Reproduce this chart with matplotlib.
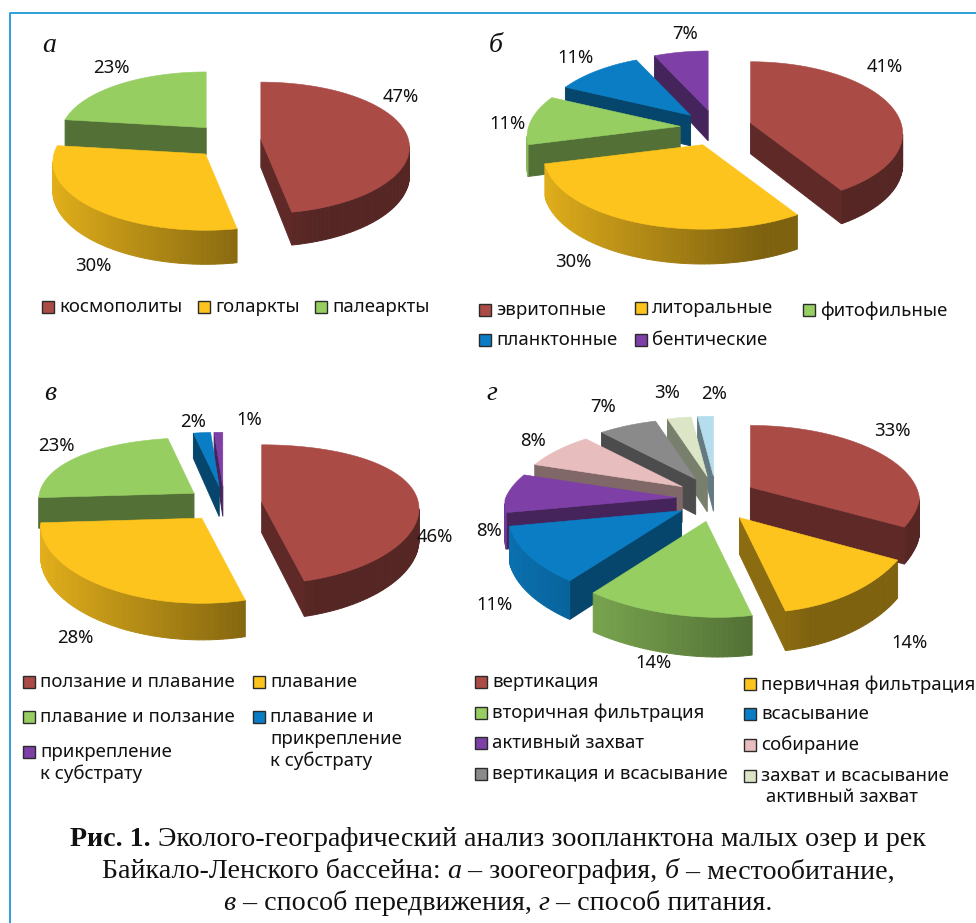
# -*- coding: utf-8 -*-
"""Четыре объемные круговые диаграммы (зоопланктон, Байкало-Ленский бассейн)."""
import numpy as np
import matplotlib
matplotlib.use('Agg')
import matplotlib.pyplot as plt
from matplotlib.patches import Polygon, Rectangle

# =============================================================================
# Данные
# =============================================================================
values_a = [47, 30, 23]
values_b = [41, 30, 11, 11, 7]
values_v = [46, 28, 23, 2, 1]
values_g = [33, 14, 14, 11, 8, 8, 7, 3, 2]

legend_a = ['космополиты', 'голаркты', 'палеаркты']
legend_b = ['эвритопные', 'литоральные', 'фитофильные', 'планктонные', 'бентические']
legend_v = ['ползание и плавание', 'плавание', 'плавание и ползание',
            'плавание и\nприкрепление\nк субстрату', 'прикрепление\nк субстрату']
legend_g = ['вертикация', 'первичная фильтрация', 'вторичная фильтрация', 'всасывание',
            'активный захват', 'собирание', 'вертикация и всасывание',
            'захват и всасывание\n активный захват']

# подпись: (текст, начертание)
caption_rows = [
    [('Рис. 1. ', 'bold'), ('Эколого-географический анализ зоопланктона малых озер и рек', 'normal')],
    [('Байкало-Ленского бассейна: ', 'normal'), ('а', 'italic'), (' – зоогеография, ', 'normal'),
     ('б', 'italic'), (' – местообитание,', 'normal')],
    [('в', 'italic'), (' – способ передвижения, ', 'normal'), ('г', 'italic'),
     (' – способ питания.', 'normal')],
]

# =============================================================================
# Стиль и разметка (в пикселях картинки)
# =============================================================================
SLICE_COLORS = ['#AA4B46', '#FDC41E', '#97CE62', '#0A7DC4', '#7E3FA6',
                '#E8BDBD', '#8A8A8A', '#DCE6C6', '#B5DDEE']
FRAME = '#2F9FDB'
SANS = ['Noto Sans', 'DejaVu Sans']
SERIF = ['Liberation Serif', 'DejaVu Serif']

# центр, радиусы, вынос секторов, перспектива (p/pf - дальняя/ближняя половина),
# глубина d, сдвиг низа b
GEOM_A = dict(cx=228, cy=141, rx=148, ry=66, e=33, k=0.54, p=0.12, pf=0.12, q=0.13, d=28, s=0.18, b=0)
GEOM_B = dict(cx=716, cy=128, rx=152, ry=72, e=36, k=0.50, p=0.15, pf=0.15, q=0.14, d=31, s=0.10, b=0)
GEOM_V = dict(cx=224, cy=504, rx=157, ry=70, e=38, k=0.46, p=0.10, pf=0.10, q=0.18, d=31, s=0.15, b=0)
GEOM_G = dict(cx=716, cy=499, rx=171, ry=78, e=40, k=0.575, p=0.20, pf=0.07, q=0.18, d=36, s=0.08, b=12)

pos_a = [(401, 97), (93, 266), (111, 68)]
pos_b = [(885, 67), (573, 262), (507, 124), (575, 58), (685, 34)]
pos_v = [(435, 537), (75, 638), (56, 446), (193, 422), (249, 420)]
pos_g = [(892, 431), (909, 643), (653, 663), (494, 605), (489, 531),
         (533, 441), (603, 407), (667, 393), (714, 394)]

# x маркера, y строки
legpos_a = [(42, 307), (198, 307), (315, 307)]
legpos_b = [(479, 310), (635, 308), (803, 310), (479, 340), (635, 340)]
legpos_v = [(23, 682), (253, 682), (23, 717), (253, 717), (23, 752)]
legpos_g = [(475, 682), (744, 684), (475, 713), (744, 714),
            (475, 743), (744, 745), (475, 774), (744, 776)]

LETTERS = [('а', 49, 46), ('б', 496, 45), ('в', 50, 394), ('г', 492, 394)]

PCT_SIZE = 13.3
LEG_SIZE = 13.4
CAP_SIZE = 20.2
CAP_Y = [840, 872, 903]
CAP_X = 498

# =============================================================================
# Функции
# =============================================================================
def shade(color, f):
    rgb = np.array(matplotlib.colors.to_rgb(color))
    return tuple(np.clip(rgb * f, 0, 1))


def pie3d(ax, values, g):
    """Рисует секторы от дальних к ближним; углы идут по часовой от 12 часов."""
    frac = np.array(values, dtype=float) / np.sum(values)
    edges = np.concatenate([[0], np.cumsum(frac)]) * 2 * np.pi
    mids = (edges[:-1] + edges[1:]) / 2
    ax0 = g['cx'] + g['e'] * np.sin(mids)
    ay0 = g['cy'] - g['e'] * g['k'] * np.cos(mids)

    for i in np.argsort(ay0):
        n = max(4, int((edges[i + 1] - edges[i]) / np.radians(1.5)))
        th = np.linspace(edges[i], edges[i + 1], n)
        u = np.concatenate([[0], np.sin(th)])
        v = np.concatenate([[0], -np.cos(th)])
        vg = (ay0[i] - g['cy']) / g['ry'] + v
        px = np.where(vg < 0, g['p'], g['pf'])
        x = ax0[i] + g['rx'] * u * (1 + px * vg) + g['b'] * np.clip(v, 0, 1) ** 4
        y = ay0[i] + g['ry'] * v * (1 + g['q'] * vg)
        dep = g['d'] * (1 + g['s'] * vg)
        col = SLICE_COLORS[i]

        # стенки: видны только те ребра, что идут справа налево
        m = len(x)
        for j in range(m):
            k = (j + 1) % m
            if x[k] >= x[j]:
                continue
            if j == 0 or j == m - 1:
                f = 0.55
            else:
                f = max(0.5, 0.6 - 0.3 * np.sin((th[j - 1] + th[k - 1]) / 2))
            quad = [(x[j], y[j]), (x[k], y[k]), (x[k], y[k] + dep[k]), (x[j], y[j] + dep[j])]
            c = shade(col, f)
            ax.add_patch(Polygon(quad, closed=True, fc=c, ec=c, lw=0.7, zorder=2))
        ax.add_patch(Polygon(np.column_stack([x, y]), closed=True, fc=col, ec=col,
                             lw=0.4, zorder=2))


def pct_labels(ax, values, pos):
    for val, (x, y) in zip(values, pos):
        ax.text(x, y, f'{val}%', ha='center', va='center', fontsize=PCT_SIZE,
                family=SANS, color='#111111', zorder=3)


def legend(ax, names, pos):
    for i, (name, (x, y)) in enumerate(zip(names, pos)):
        ax.add_patch(Rectangle((x, y - 6), 12, 12, fc=SLICE_COLORS[i], ec='#2b2b2b',
                               lw=1.0, zorder=3))
        ax.text(x + 17, y - 9, name, ha='left', va='top', fontsize=LEG_SIZE, family=SANS,
                color='#111111', linespacing=1.25, zorder=3)


def serif_text(ax, x, y, s, style):
    weight = 'bold' if style == 'bold' else 'normal'
    slant = 'italic' if style == 'italic' else 'normal'
    return ax.text(x, y, s, ha='left', va='center', fontsize=CAP_SIZE, family=SERIF,
                   weight=weight, style=slant, color='#111111')


def advance(ax, renderer, s, style):
    # ширина с учетом пробелов по краям: меряем между двумя точками
    t = serif_text(ax, 0, 0, '.' + s + '.', style)
    w = t.get_window_extent(renderer).width
    t.set_text('..')
    w -= t.get_window_extent(renderer).width
    t.remove()
    return w


def caption_row(ax, renderer, y, pieces):
    widths = [advance(ax, renderer, s, style) for s, style in pieces]
    x = CAP_X - sum(widths) / 2
    for (s, style), w in zip(pieces, widths):
        serif_text(ax, x, y, s, style)
        x += w


# =============================================================================
# Рисунок
# =============================================================================
fig = plt.figure(figsize=(9.76, 9.23), dpi=100)
ax = fig.add_axes([0, 0, 1, 1])
ax.set_xlim(0, 976)
ax.set_ylim(923, 0)
ax.axis('off')

# рамка
ax.plot([9.5, 9.5, 976], [923, 13, 13], color=FRAME, lw=1.4, zorder=1)

for vals, geom, pos, names, lpos in [(values_a, GEOM_A, pos_a, legend_a, legpos_a),
                                     (values_b, GEOM_B, pos_b, legend_b, legpos_b),
                                     (values_v, GEOM_V, pos_v, legend_v, legpos_v),
                                     (values_g, GEOM_G, pos_g, legend_g, legpos_g)]:
    pie3d(ax, vals, geom)
    pct_labels(ax, vals, pos)
    legend(ax, names, lpos)

for letter, x, y in LETTERS:
    ax.text(x, y, letter, ha='center', va='center', fontsize=20, family=SERIF,
            style='italic', color='#111111')

# подпись: куски разного начертания ставим по измеренной ширине
rend = fig.canvas.get_renderer()
for y, pieces in zip(CAP_Y, caption_rows):
    caption_row(ax, rend, y, pieces)

fig.savefig('out.png', dpi=100, facecolor='white')
